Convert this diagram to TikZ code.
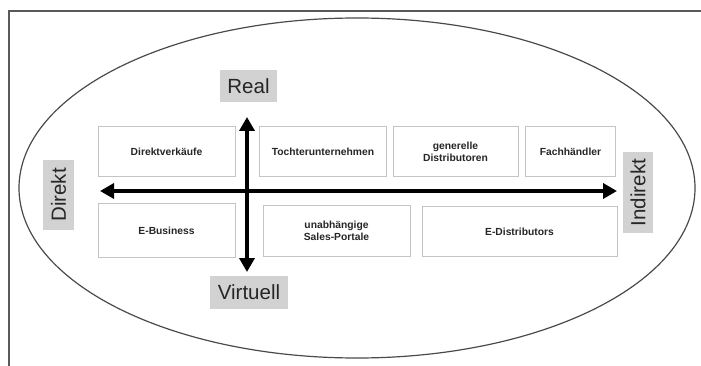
\documentclass[tikz,border=0pt]{standalone}
\usepackage{fontspec}
\setmainfont{Liberation Sans}
\usetikzlibrary{arrows.meta}
\definecolor{labelgrey}{HTML}{D2D2D2}
\definecolor{boxline}{HTML}{C4C4C4}
\definecolor{frameline}{HTML}{5A5A5A}
\definecolor{ellline}{HTML}{4A4A4A}
\begin{document}
\begin{tikzpicture}[x=1pt,y=-1pt,
  cell/.style={draw=boxline, line width=1pt, fill=white, inner sep=0pt, align=center,
    font=\fontsize{10.3}{11.5}\selectfont\bfseries, text=black!85},
  axislabel/.style={fill=labelgrey, inner sep=0pt, font=\fontsize{20.5}{22}\selectfont, text=black!85},
  axis2/.style={line width=3.6pt, {Triangle[length=14pt,width=15pt]}-{Triangle[length=14pt,width=15pt]}, black}]
\useasboundingbox (0,0) rectangle (701,366);
% frame lines
\draw[frameline, line width=2pt] (9,366) -- (9,11) -- (701,11);
% ellipse
\draw[ellline, line width=1.2pt] (357,188) ellipse [x radius=338, y radius=170];
% boxes
\node[cell, minimum width=137pt, minimum height=50pt] (dv) at (166.5,152) {Direktverkäufe};
\node[cell, minimum width=127pt, minimum height=50pt] (tu) at (323,152) {Tochterunternehmen};
\node[cell, minimum width=125pt, minimum height=50pt] (gd) at (455.5,152) {generelle\\Distributoren};
\node[cell, minimum width=90pt, minimum height=50pt] (fh) at (570.5,152) {Fachhändler};
\node[cell, minimum width=137pt, minimum height=54pt] (eb) at (166.5,230.5) {E-Business};
\node[cell, minimum width=147pt, minimum height=50pt] (sp) at (336.5,231) {unabhängige\\Sales-Portale};
\node[cell, minimum width=195pt, minimum height=50pt] (ed) at (519.5,231.5) {E-Distributors};
% axis labels
\node[axislabel, minimum width=57pt, minimum height=32pt] (real) at (248.5,86) {Real};
\node[axislabel, minimum width=78pt, minimum height=33pt] (virt) at (249,292.5) {Virtuell};
\node[axislabel, minimum width=70pt, minimum height=31pt, rotate=90] (dir) at (58.5,195) {Direkt};
\node[axislabel, minimum width=81pt, minimum height=30pt, rotate=90] (indir) at (638,192.5) {Indirekt};
% arrow ends
\coordinate (hl) at (100,191);
\coordinate (hr) at (617,191);
\coordinate (vt) at (247,117);
\coordinate (vb) at (247,272);
\draw[axis2] (hl) -- (hr);
\draw[axis2] (vb) -- (vt);
\end{tikzpicture}
\end{document}
